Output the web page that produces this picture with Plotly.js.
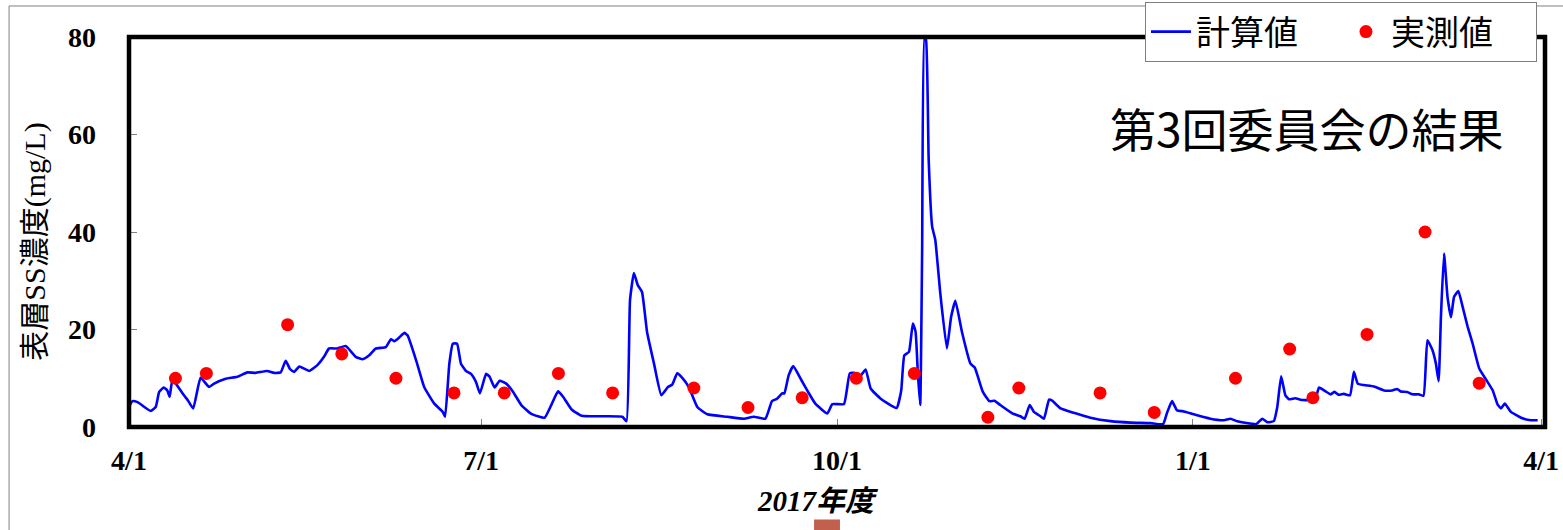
<!DOCTYPE html>
<html><head><meta charset="utf-8">
<script src="https://cdn.plot.ly/plotly-3.0.1.min.js"></script>
<style>html,body{margin:0;padding:0;background:#fff;} #chart{width:1563px;height:530px;}</style>
</head><body><div id="chart"></div>
<script>
// 計算値: day offset from 2017-04-01, SS (mg/L)
const calcDay = [0,0.9,2.2,5.6,6.9,7.8,9.0,9.9,10.5,11.2,12.0,14.2,15.2,16.6,18.5,20.7,22.0,25.0,28.0,30.6,32.7,35.7,37.5,39.2,40.5,41.6,42.7,44.0,46.6,48.7,50.4,51.7,53.9,56.0,58.6,60.4,62.1,63.8,66.4,67.7,68.6,69.9,71.2,72.0,74.2,76.3,78.9,81.1,81.7,82.8,83.7,84.8,85.8,87.1,88.4,89.7,90.7,92.3,93.2,94.5,95.8,97.5,99.2,101.4,104.0,107.4,109.2,110.9,112.2,114.4,117.0,121.9,127.5,128.6,129.5,130.5,131.5,132.6,133.9,135.7,137.6,139.3,140.4,141.7,143.0,144.7,146.9,149.5,154.6,158.9,161.5,164.5,166.2,167.5,168.8,169.4,170.5,171.7,173.6,175.3,177.4,180.5,181.8,184.8,186.3,187.6,188.9,190.4,191.7,194.3,198.4,199.6,200.4,201.6,202.6,203.3,203.9,204.5,205.0,205.6,206.0,206.7,207.6,208.4,209.7,211.4,212.5,213.6,215.3,217.5,218.6,220.7,222.4,223.7,225.2,228.3,230.4,231.5,232.8,233.9,235.6,236.5,237.8,238.6,240.8,244.2,248.5,253.7,258.9,264.0,267.3,268.3,269.6,270.9,272.7,275.2,279.5,283.0,284.7,286.4,291.4,292.9,294.2,295.9,296.8,297.8,298.9,299.8,301.5,302.8,305.4,306.7,307.6,309.3,310.6,311.6,312.7,314.0,315.6,316.6,317.6,319.2,321.8,324.4,326.5,327.8,328.7,330.4,331.7,333.4,334.6,335.6,336.9,337.8,338.5,339.1,339.9,340.8,341.7,342.5,343.6,344.7,346.0,347.3,349.0,350.7,352.5,353.7,354.6,355.6,357.2,359.8,362.4,364.1];
const calcVal = [4.1,5.3,5.1,3.3,4.1,7.2,8.1,7.5,6.2,9.6,9.0,6.5,5.5,3.8,10.1,8.2,8.9,9.9,10.3,11.2,11.1,11.5,11.1,11.2,13.6,11.9,11.3,12.4,11.5,12.7,14.4,16.1,16.1,16.6,14.4,13.9,14.7,16.1,16.4,18.0,17.6,18.4,19.3,18.8,13.7,8.2,4.8,3.1,2.1,13.0,17.1,17.1,13.0,11.5,10.9,9.2,6.9,10.9,10.3,8.1,9.5,8.9,7.3,4.5,2.7,1.9,4.6,7.3,6.2,3.6,2.3,2.2,2.1,1.2,26.0,31.6,29.1,27.7,19.5,13.0,6.5,8.2,8.7,11.0,10.1,8.2,4.1,2.6,2.1,1.7,2.1,1.7,5.3,5.8,6.9,6.9,10.6,12.5,9.9,7.5,4.8,2.8,4.7,4.7,11.0,11.1,10.3,11.8,7.9,5.8,3.9,7.5,14.7,15.4,21.2,19.6,11.0,4.5,35.6,79.8,79.5,54.8,41.1,38.4,27.4,16.1,22.6,25.9,19.5,13.0,12.2,7.2,5.3,5.4,4.5,2.8,2.2,1.7,4.5,3.1,2.2,1.7,5.6,5.4,3.8,2.9,1.9,1.2,0.9,0.8,0.6,2.9,5.3,3.4,3.2,2.6,1.7,1.4,1.7,1.2,0.6,1.7,1.0,1.2,4.1,10.4,6.5,5.7,5.9,5.6,5.5,5.9,8.1,7.3,6.7,7.2,6.6,6.8,6.5,11.3,8.9,8.6,8.3,7.5,7.5,7.8,7.3,7.2,6.7,6.7,6.4,17.8,15.8,13.0,9.4,22.6,35.6,26.7,22.5,26.7,27.9,24.7,20.6,17.1,12.0,9.8,7.5,4.7,3.8,4.8,3.1,1.9,1.4,1.4];

// 実測値
const obsDate = ['2017-04-13','2017-04-21','2017-05-12','2017-05-26','2017-06-09','2017-06-24','2017-07-07','2017-07-21','2017-08-04','2017-08-25','2017-09-08','2017-09-22','2017-10-06','2017-10-21','2017-11-09','2017-11-17','2017-12-08','2017-12-22','2018-01-12','2018-01-26','2018-02-01','2018-02-15','2018-03-02','2018-03-16'];
const obsVal = [10,11,21,15,10,7,7,11,7,8,4,6,10,11,2,8,7,3,10,16,6,19,40,9];

const tickDates = ['2017-04-01','2017-07-01','2017-10-01','2018-01-01','2018-04-01'];
const tickLabels = ['4/1','7/1','10/1','1/1','4/1'];
const yTicks = [0,20,40,60,80];

const base = Date.UTC(2017,3,1);
function dayToDate(d){ return new Date(base + d*86400000).toISOString().slice(0,19).replace('T',' '); }
const calcX = calcDay.map(dayToDate);

const serif = 'Liberation Serif, Times New Roman, Noto Sans CJK JP, serif';
const gothic = 'Noto Sans CJK JP, sans-serif';

const traces = [
  {x: calcX, y: calcVal, type:'scatter', mode:'lines', name:'計算値',
   line:{color:'#0000ff', width:2.6, shape:'spline', smoothing:0.4}},
  {x: obsDate, y: obsVal, type:'scatter', mode:'markers', name:'実測値',
   marker:{color:'#ff0000', size:13}}
];

const layout = {
  width:1563, height:530,
  margin:{l:129, r:18, t:37, b:103, autoexpand:false},
  paper_bgcolor:'#fff', plot_bgcolor:'#fff',
  showlegend:true,
  legend:{orientation:'h', x:0.7175, xanchor:'left', y:1.0897, yanchor:'top',
    bgcolor:'#fff', bordercolor:'#7f7f7f', borderwidth:1,
    itemwidth:40, entrywidth:140,
    font:{family:gothic, size:34, color:'#000'}},
  xaxis:{type:'date', range:['2017-04-01','2018-04-02'],
    tickvals:tickDates, ticktext:tickLabels,
    ticks:'inside', ticklen:8, tickcolor:'#808080', tickwidth:1,
    showgrid:false, zeroline:false, showline:false,
    ticklabelstandoff:14,
    tickfont:{family:serif, size:28, color:'#000', weight:'bold'}},
  yaxis:{range:[0,80], tickvals:yTicks,
    ticks:'inside', ticklen:8, tickcolor:'#808080', tickwidth:1,
    showgrid:false, zeroline:false, showline:false,
    ticklabelstandoff:32,
    tickfont:{family:serif, size:28, color:'#000', weight:'bold'}},
  shapes:[
    {type:'rect', xref:'paper', yref:'paper', x0:0, x1:1, y0:0, y1:1,
     line:{color:'#000', width:4.5}, fillcolor:'rgba(0,0,0,0)', layer:'above'},
    {type:'rect', xref:'paper', yref:'paper', x0:-0.0847, x1:1.03, y0:-0.35, y1:1.0795,
     line:{color:'#808080', width:1}, fillcolor:'rgba(0,0,0,0)', layer:'below'},
    {type:'rect', xref:'paper', yref:'paper', x0:0.4838, x1:0.5021, y0:-0.2371, y1:-0.35,
     line:{width:0}, fillcolor:'#c0604d', layer:'below'}
  ],
  annotations:[
    {text:'第3回委員会の結果', xref:'paper', yref:'paper', x:0.8319, y:0.77,
     xanchor:'center', yanchor:'middle', showarrow:false,
     font:{family:gothic, size:46, color:'#000'}},
    {text:'2017年度', xref:'paper', yref:'paper', x:0.4866, y:-0.19,
     xanchor:'center', yanchor:'middle', showarrow:false,
     font:{family:serif, size:29, color:'#000', weight:'bold', style:'italic'}},
    {text:'表層SS濃度(mg/L)', xref:'paper', yref:'paper', x:-0.0664, y:0.475,
     xanchor:'center', yanchor:'middle', showarrow:false, textangle:-90,
     font:{family:serif, size:30, color:'#000'}}
  ]
};
Plotly.newPlot('chart', traces, layout, {displayModeBar:false, staticPlot:true});
</script>
</body></html>
